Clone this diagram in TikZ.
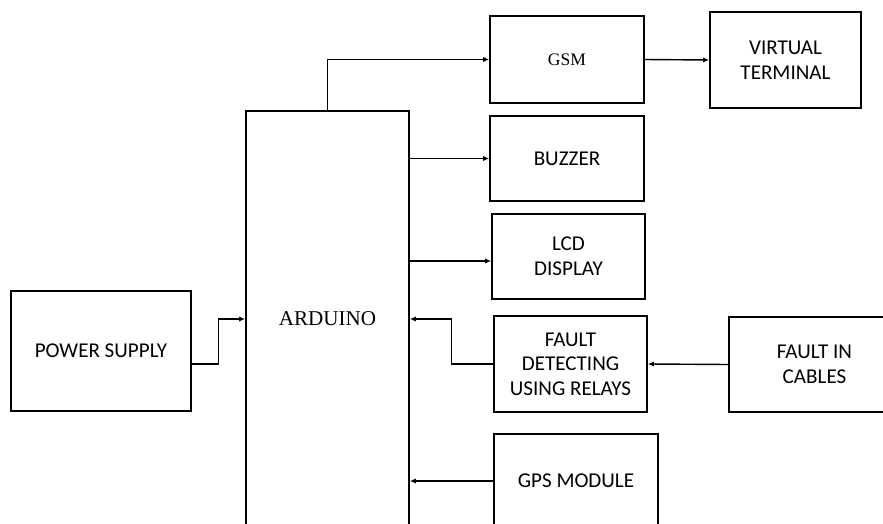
\documentclass[tikz,border=0pt]{standalone}
\usepackage{fontspec}
\setmainfont{Carlito}
\newfontfamily\serifhead{Liberation Serif}
\usetikzlibrary{arrows.meta}
\begin{document}
\begin{tikzpicture}[x=0.02cm,y=-0.02cm,
  box/.style={draw,line width=0.9pt,inner sep=0pt,align=center,font=\fontsize{12}{14}\selectfont},
  arr/.style={line width=0.8pt,-{Latex[length=3.5pt,width=3pt]}}]
\useasboundingbox (0,0) rectangle (883,524);
\clip (0,0) rectangle (883,524);
% blocks
\node[box,minimum width=3.6cm,minimum height=2.4cm] (power) at (101,351) {POWER SUPPLY};
\node[box,minimum width=3.26cm,minimum height=8.32cm,font=\serifhead\fontsize{12}{14}\selectfont] (arduino) at (327.5,319) {ARDUINO};
\node[box,minimum width=3.08cm,minimum height=1.74cm,font=\serifhead\fontsize{10}{12}\selectfont] (gsm) at (567,59.5) {GSM};
\node[box,minimum width=3.02cm,minimum height=1.92cm] (vterm) at (785.5,60) {VIRTUAL\\TERMINAL};
\node[box,minimum width=3.08cm,minimum height=1.7cm] (buzzer) at (567,158.5) {BUZZER};
\node[box,minimum width=3.06cm,minimum height=1.7cm] (lcd) at (568.5,256.5) {LCD\\DISPLAY};
\node[box,minimum width=3.06cm,minimum height=1.92cm] (relays) at (570.5,364) {FAULT\\DETECTING\\USING RELAYS};
\node[box,minimum width=3.42cm,minimum height=1.9cm] (cables) at (814.5,364.5) {FAULT IN\\CABLES};
\node[box,minimum width=3.28cm,minimum height=1.88cm] (gps) at (576,481) {GPS MODULE};
% links
\draw[arr] ([yshift=-0.26cm]power.east) -- ++(27,0) |- (arduino.west);
\draw[arr] (arduino.north) |- (gsm.west);
\draw[arr] (gsm.east) -- (vterm.west);
\draw[arr] (arduino.east |- buzzer.west) -- (buzzer.west);
\draw[arr] ([yshift=-0.09cm]arduino.east |- lcd.west) -- ([yshift=-0.09cm]lcd.west);
\draw[arr] (relays.west) -- ++(-42,0) |- (arduino.east);
\draw[arr] (cables.west) -- (relays.east);
\draw[arr] (gps.west) -- (arduino.east |- gps.west);
\end{tikzpicture}
\end{document}
